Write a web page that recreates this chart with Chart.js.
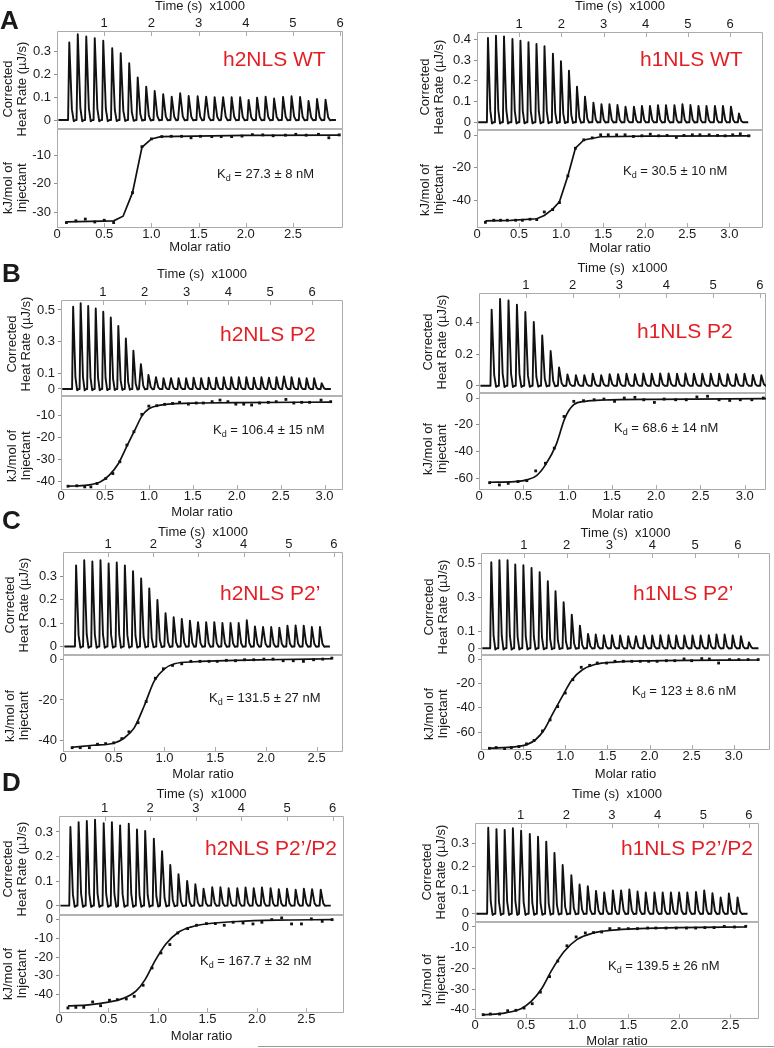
<!DOCTYPE html>
<html lang="en">
<head>
<meta charset="UTF-8">
<title>ITC titrations of h2NLS / h1NLS peptides</title>
<script src="https://cdn.jsdelivr.net/npm/chart.js"></script>
<style>
  body { margin: 0; background: #fff; font-family: 'Liberation Sans', Arial, sans-serif; color: #1a1a1a; }
  #page { position: relative; width: 774px; height: 1048px; overflow: hidden; }
  canvas { position: absolute; }
  .letter { position: absolute; font-weight: bold; font-size: 26px; line-height: 1; }
  .name { position: absolute; color: #e31e24; font-size: 21px; line-height: 1; white-space: nowrap; transform: translateY(-50%); }
  .kd { position: absolute; font-size: 13px; line-height: 1; white-space: nowrap; transform: translateY(-50%); }
  .kd sub { font-size: 9px; vertical-align: -3px; line-height: 0; }
  .ytitle { position: absolute; font-size: 13px; line-height: 14px; text-align: center; white-space: nowrap;
            transform: translate(-50%, -50%) rotate(-90deg); }
  #rule { position: absolute; left: 258px; top: 1046px; width: 516px; height: 1px; background: #9a9a9a; }
</style>
</head>
<body>
<div id="page"><div id="rule"></div></div>

<script>
// ---------- tick labels ----------
const timeTicks = ['1', '2', '3', '4', '5', '6'];
const ratioTicks25 = ['0', '0.5', '1.0', '1.5', '2.0', '2.5'];
const ratioTicks30 = ['0', '0.5', '1.0', '1.5', '2.0', '2.5', '3.0'];

// ---------- A: h2NLS WT ----------
const injA2 = [0.26,0.44,0.62,0.80,0.98,1.17,1.35,1.53,1.71,1.89,2.07,2.25,2.43,2.61,2.79,2.98,3.16,3.34,3.52,3.70,3.88,4.06,4.24,4.42,4.60,4.79,4.97,5.15,5.33,5.51,5.69];
const heatA2 = [0.34,0.376,0.366,0.359,0.347,0.315,0.293,0.249,0.187,0.146,0.127,0.113,0.102,0.117,0.105,0.104,0.102,0.1,0.1,0.1,0.1,0.088,0.098,0.102,0.094,0.101,0.104,0.101,0.083,0.092,0.089];
const ratioA2 = [0.10,0.20,0.30,0.40,0.50,0.60,0.80,0.90,1.00,1.11,1.21,1.32,1.42,1.52,1.64,1.74,1.85,1.96,2.07,2.18,2.29,2.42,2.53,2.64,2.77,2.88,2.99];
const enthA2 = [-33.5,-32.9,-32.3,-33.3,-32.7,-33.5,-23.1,-7.1,-4.4,-3.6,-3.5,-3.5,-4.0,-3.5,-3.6,-3.6,-3.6,-3.4,-2.9,-3.0,-3.3,-3.1,-2.8,-3.1,-2.8,-4.0,-3.0];
const fitRatioA2 = [0.10,0.60,0.70,0.80,0.90,1.00,1.10,2.00,3.00];
const fitEnthA2 = [-33.3,-32.9,-31.3,-23.1,-7.3,-4.4,-3.6,-3.2,-3.1];
const heatTicksA2 = ['0', '0.1', '0.2', '0.3'];
const enthTicksA2 = ['-10', '-20', '-30'];

// ---------- A: h1NLS WT ----------
const injA1 = [0.26,0.45,0.64,0.84,1.03,1.22,1.41,1.60,1.80,1.99,2.18,2.37,2.56,2.76,2.95,3.14,3.33,3.52,3.72,3.91,4.10,4.29,4.48,4.68,4.87,5.06,5.25,5.44,5.64,5.83,6.02,6.21];
const heatA1 = [0.408,0.419,0.416,0.403,0.395,0.387,0.379,0.368,0.332,0.295,0.25,0.172,0.124,0.095,0.087,0.087,0.083,0.075,0.075,0.079,0.079,0.082,0.082,0.082,0.087,0.083,0.079,0.079,0.079,0.079,0.075,0.042];
const ratioA1 = [0.10,0.20,0.28,0.36,0.46,0.54,0.63,0.71,0.80,0.90,0.98,1.08,1.17,1.27,1.37,1.47,1.56,1.66,1.76,1.86,1.96,2.06,2.16,2.26,2.37,2.46,2.56,2.65,2.76,2.86,2.95,3.04,3.13,3.23];
const enthA1 = [-53.7,-52.4,-52.4,-52.4,-52.4,-52.4,-51.8,-52.0,-47.3,-45.8,-41.5,-25,-7.9,-2.7,-1.5,0.4,0.4,0.4,0.4,-0.6,-0.2,0.8,-0.2,0,-1.2,0,0.4,0.4,0.4,0,-0.2,0.4,1.0,-0.2];
const fitRatioA1 = [0.10,0.40,0.71,0.80,0.90,0.98,1.08,1.17,1.27,1.47,2.00,3.25];
const fitEnthA1 = [-52.8,-52.5,-51.5,-49.5,-45.5,-41,-25,-7.9,-2.8,-0.8,-0.4,-0.2];
const heatTicksA1 = ['0', '0.1', '0.2', '0.3', '0.4'];
const enthTicksA1 = ['0', '-20', '-40'];

// ---------- B: h2NLS P2 ----------
const injB2 = [0.29,0.47,0.65,0.83,1.01,1.19,1.37,1.55,1.73,1.91,2.09,2.27,2.45,2.63,2.81,2.99,3.17,3.35,3.53,3.71,3.89,4.07,4.25,4.43,4.61,4.79,4.97,5.15,5.33,5.51,5.69,5.87,6.05,6.23];
const heatB2 = [0.521,0.542,0.525,0.51,0.489,0.452,0.399,0.32,0.243,0.157,0.089,0.074,0.068,0.068,0.068,0.068,0.072,0.068,0.072,0.072,0.074,0.074,0.074,0.074,0.072,0.074,0.072,0.074,0.079,0.074,0.068,0.068,0.068,0.037];
const ratioB2 = [0.08,0.18,0.27,0.34,0.41,0.51,0.59,0.67,0.75,0.83,0.92,1.00,1.09,1.18,1.27,1.35,1.45,1.54,1.62,1.72,1.81,1.90,1.99,2.08,2.17,2.26,2.36,2.45,2.56,2.65,2.74,2.83,2.96,3.07];
const enthB2 = [-42,-41.8,-42.3,-42.3,-40.8,-38.5,-36.3,-31,-23.5,-17.5,-9.7,-6,-5.8,-5.2,-4.8,-4.3,-5.1,-4.6,-4.6,-4,-3.3,-4,-5.1,-5.1,-5.5,-4.6,-4.3,-4,-3,-4.6,-4.3,-4.3,-3.3,-4];
const fitRatioB2 = [0.08,0.30,0.45,0.55,0.65,0.75,0.85,0.92,1.00,1.10,1.30,1.60,2.00,3.07];
const fitEnthB2 = [-42,-41.5,-40,-37,-32,-24,-16,-10.5,-7.2,-5.8,-4.9,-4.6,-4.4,-4.2];
const heatTicksB2 = ['0', '0.1', '0.3', '0.5'];
const enthTicksB2 = ['-10', '-20', '-30', '-40'];

// ---------- B: h1NLS P2 ----------
const injB1 = [0.27,0.45,0.63,0.81,0.99,1.17,1.35,1.53,1.71,1.89,2.07,2.25,2.43,2.61,2.79,2.97,3.15,3.33,3.51,3.69,3.87,4.05,4.23,4.41,4.59,4.77,4.95,5.13,5.31,5.49,5.67,5.85,6.03];
const heatB1 = [0.484,0.552,0.543,0.516,0.469,0.406,0.32,0.221,0.116,0.072,0.067,0.067,0.076,0.067,0.074,0.074,0.076,0.074,0.078,0.076,0.078,0.078,0.076,0.078,0.076,0.076,0.076,0.076,0.074,0.074,0.076,0.069,0.067];
const ratioB1 = [0.12,0.23,0.33,0.44,0.54,0.64,0.75,0.85,0.96,1.07,1.18,1.30,1.41,1.53,1.64,1.76,1.86,1.98,2.09,2.22,2.34,2.46,2.58,2.71,2.83,2.95,3.08,3.21];
const enthB1 = [-63.3,-65,-63.8,-62.5,-61.8,-54.5,-48.8,-37.5,-13.8,-2.5,-2,-1.3,-0.8,-2.5,0,0.5,-1.3,-3.3,-0.8,-1.3,-1.3,0.8,1.3,-1.3,-1.8,-1.3,-1.3,0];
const fitRatioB1 = [0.12,0.40,0.55,0.65,0.75,0.87,0.97,1.07,1.20,1.40,2.00,3.25];
const fitEnthB1 = [-63,-62.5,-61,-58,-50,-35,-15,-5,-2.5,-1.5,-1,-0.5];
const heatTicksB1 = ['0', '0.2', '0.4'];
const enthTicksB1 = ['0', '-20', '-40', '-60'];

// ---------- C: h2NLS P2' ----------
const injC2 = [0.29,0.47,0.65,0.83,1.01,1.19,1.37,1.55,1.73,1.91,2.09,2.27,2.45,2.63,2.81,2.99,3.17,3.35,3.53,3.71,3.89,4.07,4.25,4.43,4.61,4.79,4.97,5.15,5.33,5.51,5.69];
const heatC2 = [0.346,0.368,0.363,0.368,0.354,0.358,0.346,0.321,0.29,0.248,0.199,0.142,0.125,0.118,0.11,0.104,0.104,0.104,0.1,0.1,0.1,0.112,0.086,0.083,0.083,0.08,0.089,0.09,0.089,0.083,0.083];
const ratioC2 = [0.09,0.17,0.26,0.34,0.42,0.50,0.58,0.65,0.74,0.82,0.91,0.99,1.08,1.17,1.26,1.35,1.44,1.52,1.61,1.70,1.79,1.88,1.98,2.07,2.17,2.27,2.37,2.47,2.56,2.65];
const enthC2 = [-43.7,-43.7,-43.7,-42,-41.7,-41.3,-39.2,-35.8,-31.3,-20.8,-9.2,-4.5,-2.8,-2,-0.8,-0.8,-0.8,-0.8,-0.3,-0.5,0,0,0.3,0.3,-0.5,-0.5,-0.8,0,0.3,0.8];
const fitRatioC2 = [0.09,0.30,0.50,0.60,0.70,0.80,0.90,1.00,1.10,1.30,1.70,2.00,2.65];
const fitEnthC2 = [-43.5,-42.5,-41.5,-39,-34,-23,-10.5,-4.5,-2,-1,-0.3,0,0.5];
const heatTicksC2 = ['0', '0.1', '0.2', '0.3'];
const enthTicksC2 = ['0', '-20', '-40'];

// ---------- C: h1NLS P2' ----------
const injC1 = [0.24,0.43,0.62,0.80,0.99,1.18,1.37,1.56,1.74,1.93,2.12,2.31,2.50,2.68,2.87,3.06,3.25,3.44,3.62,3.81,4.00,4.19,4.38,4.56,4.75,4.94,5.13,5.32,5.50,5.69,5.88,6.07,6.26];
const heatC1 = [0.508,0.52,0.52,0.495,0.491,0.475,0.449,0.396,0.337,0.272,0.199,0.134,0.085,0.081,0.077,0.077,0.075,0.071,0.071,0.075,0.075,0.077,0.077,0.075,0.075,0.075,0.075,0.077,0.081,0.081,0.075,0.071,0.035];
const ratioC1 = [0.10,0.18,0.28,0.36,0.45,0.54,0.63,0.73,0.82,0.91,1.00,1.09,1.19,1.29,1.38,1.49,1.59,1.69,1.79,1.89,1.99,2.09,2.20,2.30,2.41,2.50,2.62,2.71,2.82,2.95,3.06,3.17,3.29];
const enthC1 = [-73.2,-72.6,-73.7,-72.6,-71.8,-69.6,-66.8,-59,-49.9,-39,-27.9,-17,-6.8,-5.2,-3.3,-3.3,-1.9,-1.9,-1.9,-1.9,-1.9,-1.9,-1.4,-1.4,0,-1.4,0.3,0,-3.3,-0.5,-0.5,-0.5,-0.5];
const fitRatioC1 = [0.10,0.40,0.55,0.65,0.75,0.85,0.97,1.08,1.20,1.35,1.60,2.00,3.29];
const fitEnthC1 = [-73,-72,-70,-66,-58,-45,-30,-17,-9,-4.5,-2.5,-1.5,-0.8];
const heatTicksC1 = ['0', '0.1', '0.3', '0.5'];
const enthTicksC1 = ['0', '-20', '-40', '-60'];

// ---------- D: h2NLS P2'/P2 ----------
const injD2 = [0.25,0.43,0.61,0.79,0.98,1.16,1.34,1.53,1.71,1.89,2.08,2.26,2.44,2.62,2.81,2.99,3.17,3.36,3.54,3.72,3.91,4.09,4.27,4.45,4.64,4.82,5.00,5.19,5.37,5.55,5.74];
const heatD2 = [0.32,0.34,0.345,0.35,0.336,0.34,0.327,0.334,0.31,0.304,0.273,0.222,0.166,0.128,0.101,0.087,0.069,0.075,0.075,0.071,0.071,0.074,0.071,0.074,0.071,0.067,0.069,0.065,0.069,0.067,0.065];
const ratioD2 = [0.09,0.17,0.25,0.34,0.42,0.51,0.59,0.68,0.76,0.85,0.94,1.03,1.12,1.20,1.30,1.39,1.49,1.58,1.67,1.76,1.86,1.96,2.05,2.15,2.25,2.35,2.45,2.55,2.66,2.76];
const enthD2 = [-47.1,-46.8,-46.8,-43.9,-45.9,-43,-42.7,-42.3,-40.9,-35,-25.8,-17.8,-13.3,-7.1,-4.8,-3,-2.1,-2.1,-3,-1.4,-1.8,-2.3,-1.4,0,0.9,-2.3,-2.3,0.4,-0.9,0];
const fitRatioD2 = [0.09,0.30,0.50,0.65,0.78,0.87,0.97,1.08,1.20,1.33,1.50,1.80,2.20,2.76];
const fitEnthD2 = [-46,-45.5,-44,-42,-38,-32,-22,-13,-7,-4,-2.2,-1,-0.3,0];
const heatTicksD2 = ['0', '0.1', '0.2', '0.3'];
const enthTicksD2 = ['0', '-10', '-20', '-30', '-40'];

// ---------- D: h1NLS P2'/P2 ----------
const injD1 = [0.29,0.47,0.65,0.83,1.01,1.20,1.38,1.56,1.74,1.92,2.11,2.29,2.47,2.65,2.83,3.02,3.20,3.38,3.56,3.74,3.93,4.11,4.29,4.47,4.65,4.84,5.02,5.20,5.38,5.56,5.75];
const heatD1 = [0.365,0.359,0.356,0.363,0.352,0.338,0.327,0.306,0.258,0.207,0.163,0.124,0.117,0.097,0.09,0.099,0.099,0.103,0.094,0.09,0.09,0.09,0.09,0.09,0.09,0.092,0.099,0.087,0.069,0.086,0.069];
const ratioD1 = [0.08,0.15,0.24,0.32,0.40,0.48,0.56,0.64,0.73,0.81,0.90,0.99,1.08,1.16,1.24,1.32,1.41,1.50,1.59,1.69,1.77,1.87,1.97,2.07,2.16,2.25,2.34,2.44,2.54,2.65];
const enthD1 = [-42.4,-42.1,-42.1,-40.5,-40.3,-39.2,-37.1,-31.5,-24,-16.5,-9.1,-4.8,-2.9,-2.7,-2.4,-0.8,-0.8,-0.8,-0.8,-0.5,-0.5,-0.5,-0.5,-0.5,-0.5,-0.3,-0.3,0.3,0,0.3];
const fitRatioD1 = [0.08,0.30,0.45,0.55,0.65,0.75,0.87,1.00,1.15,1.35,1.60,2.00,2.65];
const fitEnthD1 = [-42.5,-41.5,-39.5,-36,-30,-21,-12,-6,-3,-1.5,-0.8,-0.3,0];
const heatTicksD1 = ['0', '0.1', '0.2', '0.3'];
const enthTicksD1 = ['0', '-10', '-20', '-30', '-40'];

// shape of one injection peak: [time offset (x1000 s), fraction of peak height]
const peakShape = [[-0.025, 0], [0, 1], [0.055, 0.14], [0.095, -0.015], [0.135, 0]];

// layout of each panel (page pixels): frame = [left, right, top, separator, bottom]
const panels = [
  { x0: 0,   frame: [57, 343, 31, 128, 228],  timeY: 6,   molarY: 248,  tMax: 6.06, heat: [-0.035, 0.39],  enth: [-35.4, -0.6], rMax: 3.03,
    inj: injA2, hq: heatA2, ratio: ratioA2, enthalpy: enthA2, fitR: fitRatioA2, fitE: fitEnthA2, heatTicks: heatTicksA2, enthTicks: enthTicksA2, ratioTicks: ratioTicks25,
    smooth: false, name: 'h2NLS WT', nameAt: [223, 58], kd: '27.3 ± 8 nM', kdAt: [217, 173], yt: [15, 89, 188] },
  { x0: 390, frame: [477, 763, 32, 129, 228], timeY: 6,   molarY: 249,  tMax: 6.78, heat: [-0.033, 0.437], enth: [-57.2, 4.0], rMax: 3.4,
    inj: injA1, hq: heatA1, ratio: ratioA1, enthalpy: enthA1, fitR: fitRatioA1, fitE: fitEnthA1, heatTicks: heatTicksA1, enthTicks: enthTicksA1, ratioTicks: ratioTicks30,
    smooth: false, name: 'h1NLS WT', nameAt: [640, 58], kd: '30.5 ± 10 nM', kdAt: [623, 170], yt: [432, 87, 190] },
  { x0: 0,   frame: [61, 343, 300, 395, 490], timeY: 274, molarY: 513,  tMax: 6.74, heat: [-0.038, 0.563], enth: [-43.7, -1.0], rMax: 3.21,
    inj: injB2, hq: heatB2, ratio: ratioB2, enthalpy: enthB2, fitR: fitRatioB2, fitE: fitEnthB2, heatTicks: heatTicksB2, enthTicks: enthTicksB2, ratioTicks: ratioTicks30,
    smooth: true, name: 'h2NLS P2', nameAt: [220, 333], kd: '106.4 ± 15 nM', kdAt: [213, 429], yt: [19, 344, 456] },
  { x0: 390, frame: [479, 766, 293, 392, 490], timeY: 268, molarY: 515, tMax: 6.13, heat: [-0.04, 0.59],  enth: [-68.8, 4.5], rMax: 3.24,
    inj: injB1, hq: heatB1, ratio: ratioB1, enthalpy: enthB1, fitR: fitRatioB1, fitE: fitEnthB1, heatTicks: heatTicksB1, enthTicks: enthTicksB1, ratioTicks: ratioTicks30,
    smooth: true, name: 'h1NLS P2', nameAt: [637, 330], kd: '68.6 ± 14 nM', kdAt: [614, 427], yt: [435, 342, 449] },
  { x0: 0,   frame: [63, 343, 552, 654, 752], timeY: 532, molarY: 775,  tMax: 6.2,  heat: [-0.032, 0.403], enth: [-45.85, 2.85], rMax: 2.76,
    inj: injC2, hq: heatC2, ratio: ratioC2, enthalpy: enthC2, fitR: fitRatioC2, fitE: fitEnthC2, heatTicks: heatTicksC2, enthTicks: enthTicksC2, ratioTicks: ratioTicks25,
    smooth: true, name: 'h2NLS P2\u2019', nameAt: [220, 592], kd: '131.5 ± 27 nM', kdAt: [209, 697], yt: [17, 605, 716] },
  { x0: 390, frame: [481, 770, 553, 654, 750], timeY: 533, molarY: 775, tMax: 6.75, heat: [-0.034, 0.563], enth: [-74.6, 4.1], rMax: 3.43,
    inj: injC1, hq: heatC1, ratio: ratioC1, enthalpy: enthC1, fitR: fitRatioC1, fitE: fitEnthC1, heatTicks: heatTicksC1, enthTicks: enthTicksC1, ratioTicks: ratioTicks30,
    smooth: true, name: 'h1NLS P2\u2019', nameAt: [633, 592], kd: '123 ± 8.6 nM', kdAt: [632, 690], yt: [436, 607, 714] },
  { x0: 0,   frame: [59, 344, 816, 914, 1013], timeY: 794, molarY: 1037, tMax: 6.25, heat: [-0.034, 0.365], enth: [-49.8, 3.0], rMax: 2.88,
    inj: injD2, hq: heatD2, ratio: ratioD2, enthalpy: enthD2, fitR: fitRatioD2, fitE: fitEnthD2, heatTicks: heatTicksD2, enthTicks: enthTicksD2, ratioTicks: ratioTicks25,
    smooth: true, name: 'h2NLS P2\u2019/P2', nameAt: [205, 847], kd: '167.7 ± 32 nM', kdAt: [200, 960], yt: [15, 869, 974] },
  { x0: 390, frame: [475, 759, 823, 921, 1019], timeY: 794, molarY: 1042, tMax: 6.22, heat: [-0.031, 0.385], enth: [-44.5, 2.9], rMax: 2.78,
    inj: injD1, hq: heatD1, ratio: ratioD1, enthalpy: enthD1, fitR: fitRatioD1, fitE: fitEnthD1, heatTicks: heatTicksD1, enthTicks: enthTicksD1, ratioTicks: ratioTicks25,
    smooth: true, name: 'h1NLS P2\u2019/P2', nameAt: [621, 847], kd: '139.5 ± 26 nM', kdAt: [608, 965], yt: [434, 872, 980] }
];
const letters = [['A', 0, 7], ['B', 2, 260], ['C', 2, 507], ['D', 2, 769]];

Chart.defaults.font.family = "'Liberation Sans', Arial, sans-serif";
Chart.defaults.color = '#1a1a1a';

const page = document.getElementById('page');

// draws the grey box, the separator and the inward x ticks
const framePlugin = {
  id: 'frame',
  beforeDatasetsDraw(chart, args, opts) {
    const { ctx, chartArea: a } = chart;
    const L = a.left + 0.5, R = a.right - 0.5;
    ctx.save();
    ctx.strokeStyle = '#ababab';
    ctx.lineWidth = 1;
    ctx.beginPath();
    if (opts.part === 'top') {
      ctx.moveTo(L, a.bottom); ctx.lineTo(L, a.top + 0.5); ctx.lineTo(R, a.top + 0.5); ctx.lineTo(R, a.bottom);
    } else {
      ctx.moveTo(L, a.top); ctx.lineTo(L, a.bottom - 0.5); ctx.lineTo(R, a.bottom - 0.5); ctx.lineTo(R, a.top);
    }
    const xs = chart.scales.x;
    xs.ticks.forEach(t => {
      const px = Math.round(xs.getPixelForValue(t.value)) + 0.5;
      if (opts.part === 'top') { ctx.moveTo(px, a.top); ctx.lineTo(px, a.top + 5); }
      else { ctx.moveTo(px, a.bottom); ctx.lineTo(px, a.bottom - 5); }
    });
    ctx.stroke();
    if (opts.part === 'bottom') {
      ctx.strokeStyle = '#b3b3b3';
      ctx.lineWidth = 2;
      ctx.beginPath(); ctx.moveTo(a.left, a.top + 1); ctx.lineTo(a.right, a.top + 1); ctx.stroke();
    }
    ctx.restore();
  }
};

function addCanvas(left, top, w, h) {
  const c = document.createElement('canvas');
  c.width = w; c.height = h;
  c.style.left = left + 'px'; c.style.top = top + 'px';
  c.style.width = w + 'px'; c.style.height = h + 'px';
  page.appendChild(c);
  return c;
}

function addText(cls, html, left, top) {
  const d = document.createElement('div');
  d.className = cls;
  d.innerHTML = html;
  d.style.left = left + 'px'; d.style.top = top + 'px';
  page.appendChild(d);
}

function setTicks(labels) {
  return s => { s.ticks = labels.map(l => ({ value: Number(l) })).sort((a, b) => a.value - b.value); };
}

function yScale(range, labels, width) {
  return {
    type: 'linear', position: 'left', min: range[0], max: range[1],
    afterBuildTicks: setTicks(labels),
    afterFit: s => { s.width = width; s.paddingTop = 0; s.paddingBottom = 0; },
    grid: { drawOnChartArea: false, tickLength: 3, color: '#8e8e8e' },
    border: { display: false },
    ticks: { padding: 3, autoSkip: false, font: { size: 13, lineHeight: 1 }, callback: v => labels.find(l => Number(l) === v) }
  };
}

function xScale(position, max, labels, height, title) {
  return {
    type: 'linear', position, min: 0, max,
    afterBuildTicks: setTicks(labels),
    afterFit: s => { s.height = height; s.paddingLeft = 0; s.paddingRight = 0; },
    grid: { drawOnChartArea: false, drawTicks: false },
    border: { display: false },
    ticks: { padding: position === 'top' ? 1 : 0, autoSkip: false, maxRotation: 0, font: { size: 13, lineHeight: 1 },
             callback: v => labels.find(l => Number(l) === v) },
    title: { display: true, text: title, padding: 0, font: { size: 13, lineHeight: 1.1 } }
  };
}

function buildTrace(times, heats) {
  const pts = [{ x: 0.03, y: 0 }];
  times.forEach((t, i) => {
    peakShape.forEach(([dt, f]) => pts.push({ x: t + dt, y: heats[i] * f }));
  });
  pts.push({ x: times[times.length - 1] + 0.22, y: 0 });
  return pts;
}

const common = { responsive: false, animation: false, devicePixelRatio: 1, events: [] };

panels.forEach(p => {
  const [L, R, T, S, B] = p.frame;
  const right = Math.min(774, R + 10);
  const w = right - p.x0;
  const padR = right - R;
  const yW = L - p.x0;

  // thermogram
  const topY = p.timeY - 7;
  const c1 = addCanvas(p.x0, topY, w, S - topY + 8);
  new Chart(c1, {
    type: 'scatter',
    data: { datasets: [{ data: buildTrace(p.inj, p.hq), showLine: true, borderColor: '#111', borderWidth: 1.9,
                         pointRadius: 0, tension: 0, borderJoinStyle: 'round' }] },
    options: { ...common,
      layout: { padding: { left: 0, top: 0, right: padR, bottom: 8 } },
      plugins: { legend: { display: false }, tooltip: { enabled: false }, frame: { part: 'top' } },
      scales: { x: xScale('top', p.tMax, timeTicks, T - topY, 'Time (s)  x1000'), y: yScale(p.heat, p.heatTicks, yW) } },
    plugins: [framePlugin]
  });

  // binding isotherm
  const botY = S - 8;
  const c2 = addCanvas(p.x0, botY, w, p.molarY + 7 - botY);
  new Chart(c2, {
    type: 'scatter',
    data: { datasets: [
      { data: p.fitR.map((x, i) => ({ x, y: p.fitE[i] })), showLine: true, borderColor: '#111', borderWidth: 1.7,
        pointRadius: 0, cubicInterpolationMode: p.smooth ? 'monotone' : 'default', tension: 0 },
      { data: p.ratio.map((x, i) => ({ x, y: p.enthalpy[i] })), pointStyle: 'rect', pointRadius: 2,
        backgroundColor: '#111', borderWidth: 0 }
    ] },
    options: { ...common,
      layout: { padding: { left: 0, top: 8, right: padR, bottom: 0 } },
      plugins: { legend: { display: false }, tooltip: { enabled: false }, frame: { part: 'bottom' } },
      scales: { x: xScale('bottom', p.rMax, p.ratioTicks, p.molarY + 7 - B, 'Molar ratio'), y: yScale(p.enth, p.enthTicks, yW) } },
    plugins: [framePlugin]
  });

  addText('ytitle', 'Corrected<br>Heat Rate (\u00b5J/s)', p.yt[0], p.yt[1]);
  addText('ytitle', 'kJ/mol of<br>Injectant', p.yt[0], p.yt[2]);
  addText('name', p.name, p.nameAt[0], p.nameAt[1]);
  addText('kd', 'K<sub>d</sub> = ' + p.kd, p.kdAt[0], p.kdAt[1]);
});

letters.forEach(([t, x, y]) => addText('letter', t, x, y));
</script>
</body>
</html>
